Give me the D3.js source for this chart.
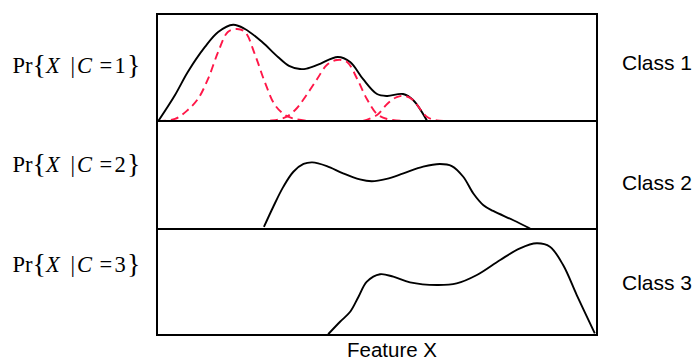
<!DOCTYPE html>
<html>
<head>
<meta charset="utf-8">
<script src="https://cdn.jsdelivr.net/npm/d3@7"></script>
<style>
  html, body { margin: 0; padding: 0; background: #fff; }
  svg { display: block; }
</style>
</head>
<body>
<svg id="chart" width="696" height="362"></svg>
<script>
// ---------------- DATA (feature units 0-100, density units 0-100 of panel height) -------------
const classNames = ["Class 1", "Class 2", "Class 3"];
const classIds = ["1", "2", "3"];
const axisTitle = "Feature X";

// Class 1 overall density (black)
const class1Density = [
  [0.3, 0], [4.1, 24.3], [7.0, 45.8], [10.9, 69.2], [13.9, 83.2], [17.3, 90.0],
  [20.0, 86.0], [23.9, 73.8], [27.5, 59.8], [30.0, 51.5], [32.5, 48.6], [34.0, 49.0],
  [36.6, 52.6], [41.1, 59.8], [43.9, 55.1], [46.8, 39.3], [50.0, 25.2], [52.3, 23.4],
  [55.9, 25.2], [58.2, 19.6], [61.4, 0]
];
// Class 1 mixture components (red dashed)
const class1Comp1 = [
  [0.2, 0], [4.1, 1.9], [7.0, 10.3], [9.3, 20.6], [11.6, 39.3], [13.9, 64.5],
  [16.1, 83.2], [18.2, 86.0], [20.0, 83.2], [22.3, 61.7], [24.5, 36.4], [26.8, 15.0],
  [29.1, 5.6], [31.4, 1.9], [34.8, 0]
];
const class1Comp2 = [
  [22.7, 0], [26.1, 0.5], [29.1, 3.3], [31.4, 10.3], [33.2, 19.6], [36.4, 39.3],
  [38.6, 52.3], [40.9, 57.0], [43.2, 55.1], [45.5, 39.3], [47.7, 20.6], [50.0, 6.5],
  [52.3, 1.9], [56.4, 0]
];
const class1Comp3 = [
  [46.8, 0], [50.0, 5.6], [52.3, 15.9], [54.5, 22.4], [56.4, 23.4], [58.2, 19.6],
  [59.8, 11.2], [61.4, 3.7], [63.6, 0.5], [66.1, 0]
];
// Class 2 density
const class2Density = [
  [24.3, 1.9], [26.4, 20.4], [28.7, 39.0], [31.0, 53.0], [33.3, 60.2], [35.3, 61.7],
  [38.6, 58.3], [42.3, 51.5], [46.1, 45.9], [48.8, 44.2], [52.2, 46.4], [56.0, 51.5],
  [60.5, 57.7], [64.3, 60.2], [67.0, 58.3], [69.6, 48.4], [71.9, 32.9], [74.2, 22.0],
  [76.4, 16.7], [81.0, 8.1], [84.8, 0.4]
];
// Class 3 density
const class3Density = [
  [38.9, 0.7], [41.6, 12.5], [43.9, 21.9], [45.8, 36.1], [47.7, 50.3], [50.7, 57.3],
  [53.7, 55.0], [57.5, 49.7], [63.6, 47.2], [68.1, 48.7], [72.7, 56.6], [78.0, 70.8],
  [82.5, 81.8], [86.3, 86.5], [89.3, 83.3], [92.3, 66.0], [95.4, 37.7], [99.5, 1.6]
];

// ---------------- LAYOUT ----------------
const svg = d3.select("#chart");
const left = 157, right = 597;
const panels = [
  { top: 14, bottom: 121 },
  { top: 121, bottom: 229 },
  { top: 229, bottom: 335 }
];
const x = d3.scaleLinear().domain([0, 100]).range([left, right]);
const yScales = panels.map(p => d3.scaleLinear().domain([0, 100]).range([p.bottom, p.top]));

const lineFor = ys => d3.line()
  .x(d => x(d[0]))
  .y(d => ys(d[1]))
  .curve(d3.curveCatmullRom.alpha(0.5));

// black densities
const blackSeries = [class1Density, class2Density, class3Density];
blackSeries.forEach((data, i) => {
  svg.append("path")
    .attr("d", lineFor(yScales[i])(data))
    .attr("fill", "none")
    .attr("stroke", "#000")
    .attr("stroke-width", 1.9)
    .attr("stroke-linejoin", "round");
});

// red dashed components
[class1Comp1, class1Comp2, class1Comp3].forEach(data => {
  svg.append("path")
    .attr("d", lineFor(yScales[0])(data))
    .attr("fill", "none")
    .attr("stroke", "#ff1748")
    .attr("stroke-width", 1.9)
    .attr("stroke-dasharray", "8,5");
});

// frame and dividers
svg.append("rect")
  .attr("x", left).attr("y", panels[0].top)
  .attr("width", right - left).attr("height", panels[2].bottom - panels[0].top)
  .attr("fill", "none").attr("stroke", "#000").attr("stroke-width", 2);
[panels[0].bottom, panels[1].bottom].forEach(yv => {
  svg.append("line")
    .attr("x1", left).attr("x2", right)
    .attr("y1", yv).attr("y2", yv)
    .attr("stroke", "#000").attr("stroke-width", 2.2);
});

// left math labels
const labelBaselines = [73, 172, 272];
const serif = "'Liberation Serif', 'Times New Roman', serif";
classIds.forEach((id, i) => {
  const t = svg.append("text")
    .attr("y", labelBaselines[i])
    .attr("font-family", serif)
    .attr("font-size", 22.5)
    .attr("fill", "#000");
  const parts = [
    { s: "Pr", x: 12.5 },
    { s: "{", x: 32.5, size: 28, dy: 1 },
    { s: "X", x: 46, italic: true },
    { s: "|", x: 70.5 },
    { s: "C", x: 77, italic: true },
    { s: "=", x: 99.5 },
    { s: id, x: 114.5 },
    { s: "}", x: 127, size: 28, dy: 1 }
  ];
  parts.forEach(p => {
    const ts = t.append("tspan")
      .attr("x", p.x)
      .attr("y", labelBaselines[i] + (p.dy || 0))
      .text(p.s);
    if (p.size) ts.attr("font-size", p.size);
    if (p.italic) ts.attr("font-style", "italic");
  });
});

// right class labels
const classBaselines = [70, 190, 290];
classNames.forEach((name, i) => {
  svg.append("text")
    .attr("x", 622).attr("y", classBaselines[i])
    .attr("font-family", "'Liberation Sans', Arial, sans-serif")
    .attr("font-size", 21)
    .attr("fill", "#000")
    .text(name);
});

// axis title
svg.append("text")
  .attr("x", 347).attr("y", 357)
  .attr("font-family", "'Liberation Sans', Arial, sans-serif")
  .attr("font-size", 20.5)
  .attr("fill", "#000")
  .text(axisTitle);
</script>
</body>
</html>
